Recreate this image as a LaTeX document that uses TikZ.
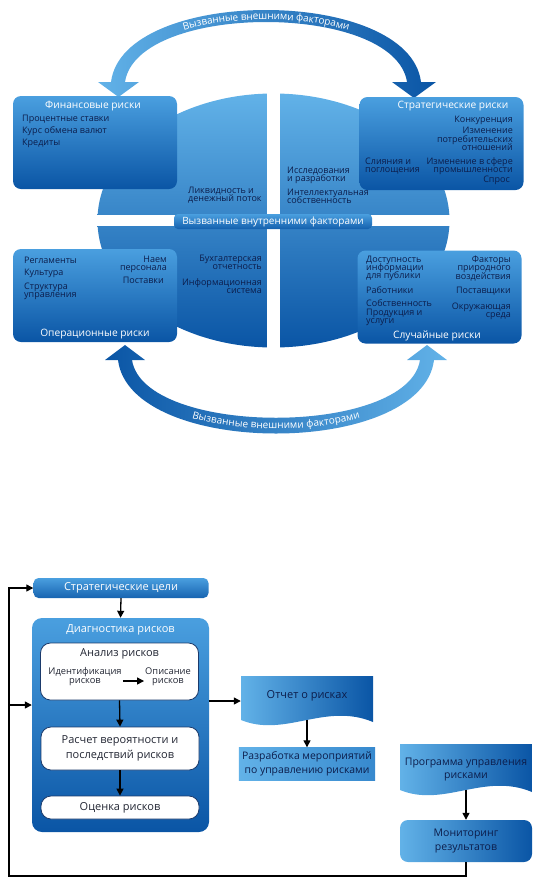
\documentclass[tikz,border=0pt]{standalone}
\usepackage{fontspec}
\setmainfont{Open Sans}
\usetikzlibrary{arrows.meta,decorations.text}

\definecolor{navy}{HTML}{0C1D4B}
\definecolor{skyblue}{HTML}{62B2E8}
\definecolor{lightblue}{HTML}{4A9FDF}
\definecolor{darkblue}{HTML}{0A55A5}
\definecolor{framecol}{HTML}{1B3A6B}
\definecolor{inktext}{HTML}{222633}

\newcommand{\tightlines}{\lineskiplimit=-5pt\relax}

\tikzset{
  riskbox/.style={rounded corners=8pt, top color=lightblue, bottom color=darkblue,
    minimum width=164pt, minimum height=93pt},
  risktitle/.style={text=white, font=\fontsize{10.2}{11}\selectfont, inner sep=1pt},
  riskitem/.style={text=navy, font=\fontsize{9}{8.2}\selectfont\tightlines, inner sep=1pt},
  innerband/.style={rounded corners=4pt, top color=lightblue, bottom color=darkblue!85!lightblue,
    minimum width=198pt, minimum height=15pt, inner sep=0pt, text=white,
    font=\fontsize{10}{10}\selectfont},
  bluebox/.style={rounded corners=5pt, top color=lightblue, bottom color=darkblue!80!lightblue,
    text=white, font=\fontsize{11}{12}\selectfont},
  stepbox/.style={rounded corners=10pt, fill=white, draw=framecol, line width=0.8pt,
    text=inktext, font=\fontsize{11}{14.5}\selectfont, align=center, minimum width=158pt},
  docnode/.style={minimum width=132pt, minimum height=50pt, text=navy, align=center,
    font=\fontsize{10.5}{13}\selectfont,
    path picture={\shade[left color=skyblue, right color=darkblue]
      (path picture bounding box.north west) -- (path picture bounding box.north east)
      -- ([yshift=4pt]path picture bounding box.south east)
      .. controls ([xshift=-48pt,yshift=24pt]path picture bounding box.south east)
      and ([xshift=44pt,yshift=-12pt]path picture bounding box.south west)
      .. ([yshift=6pt]path picture bounding box.south west) -- cycle;}},
  arrow/.style={line width=1.3pt, -{Triangle[width=7pt,length=7pt]}},
}

\begin{document}
\begin{tikzpicture}[x=1pt, y=-1pt]
  \useasboundingbox (0,0) rectangle (537,884);

  % Круг с четырьмя секторами
  \shade[top color=skyblue, bottom color=darkblue] (273.5,220.5) ellipse [x radius=176, y radius=127];
  \fill[white] (267,90) rectangle (280,350);
  \fill[white] (95,215) rectangle (452,226);

  % Внешние стрелки
  \shade[left color=skyblue, right color=darkblue]
    (98,82) -- (111,82) .. controls (123,-14) and (409,-14) .. (421,82) -- (436,82) -- (414,98)
    -- (392,82) -- (407,82) .. controls (395,2) and (137,2) .. (125,82) -- (139,82) -- (118.5,97) -- cycle;
  \shade[left color=darkblue, right color=skyblue]
    (105,360) -- (118,360) .. controls (130,458) and (422,458) .. (434,360) -- (447,360) -- (427,345)
    -- (407,360) -- (420,360) .. controls (408,437) and (144,437) .. (132,360) -- (145,360) -- (125,345) -- cycle;
  \path[decorate, decoration={text along path, text color=white, text align=center, raise=-3.5pt,
      text={|\fontsize{10}{10}\selectfont|Вызванные внешними факторами}}]
    (118,82) .. controls (130,-6) and (402,-6) .. (414,82);
  \path[decorate, decoration={text along path, text color=white, text align=center, raise=-3.5pt,
      text={|\fontsize{10}{10}\selectfont|Вызванные внешними факторами}}]
    (125,360) .. controls (137,447) and (415,447) .. (427,360);

  % Финансовые риски
  \node[riskbox] (fin) at (95,142.5) {};
  \node[risktitle] (fintitle) at (93,106) {Финансовые риски};
  \node[riskitem, anchor=west] (rates) at (21,119) {Процентные ставки};
  \node[riskitem, anchor=west] (fx) at (21,131) {Курс обмена валют};
  \node[riskitem, anchor=west] (credit) at (21,143) {Кредиты};

  % Стратегические риски
  \node[riskbox] (strat) at (441.5,143.5) {};
  \node[risktitle] (strattitle) at (453,106) {Стратегические риски};
  \node[riskitem, anchor=east] (compet) at (514,120) {Конкуренция};
  \node[riskitem, anchor=east, align=right] (consum) at (514,139) {Изменение\\потребительских\\отношений};
  \node[riskitem, anchor=east, align=right] (industry) at (514,166) {Изменение в сфере\\промышленности};
  \node[riskitem, anchor=east] (demand) at (511,180) {Спрос};
  \node[riskitem, anchor=west, align=left] (merge) at (364,166) {Слияния и\\поглощения};

  % Тексты в секторах
  \node[riskitem, anchor=west, align=left] (liquid) at (187,195) {Ликвидность и\\денежный поток};
  \node[riskitem, anchor=west, align=left] (research) at (286,175) {Исследования\\и разработки};
  \node[riskitem, anchor=west, align=left] (ip) at (286,196) {Интеллектуальная\\собственность};
  \node[riskitem, anchor=east, align=right] (account) at (263,262) {Бухгалтерская\\отчетность};
  \node[riskitem, anchor=east, align=right] (infosys) at (263,286) {Информационная\\система};

  % Операционные риски
  \node[riskbox] (oper) at (95,295.5) {};
  \node[risktitle] (opertitle) at (95,334) {Операционные риски};
  \node[riskitem, anchor=west] (rules) at (23,260) {Регламенты};
  \node[riskitem, anchor=west] (culture) at (23,273) {Культура};
  \node[riskitem, anchor=west, align=left] (struct) at (23,291) {Структура\\управления};
  \node[riskitem, anchor=east, align=right] (hiring) at (168,264) {Наем\\персонала};
  \node[riskitem, anchor=east] (supply) at (165,280) {Поставки};

  % Случайные риски
  \node[riskbox] (rand) at (439.5,297) {};
  \node[risktitle] (randtitle) at (437,336) {Случайные риски};
  \node[riskitem, anchor=west, align=left] (public) at (365,268.5) {Доступность\\информации\\для публики};
  \node[riskitem, anchor=west] (staff) at (365,290) {Работники};
  \node[riskitem, anchor=west] (property) at (365,303) {Собственность};
  \node[riskitem, anchor=west, align=left] (product) at (365,317) {Продукция и\\услуги};
  \node[riskitem, anchor=east, align=right] (nature) at (512,268.5) {Факторы\\природного\\воздействия};
  \node[riskitem, anchor=east] (vendors) at (512,291) {Поставщики};
  \node[riskitem, anchor=east, align=right] (environ) at (512,311) {Окружающая\\среда};

  % Внутренние факторы
  \node[innerband] (inner) at (273,221.5) {Вызванные внутренними факторами};

  % Схема управления рисками
  \node[bluebox, minimum width=175pt, minimum height=20pt] (goals) at (121,588) {Стратегические цели};
  \node[bluebox, rounded corners=10pt, minimum width=177pt, minimum height=214pt,
    top color=lightblue, bottom color=darkblue] (diag) at (120.5,725) {};
  \node[text=white, font=\fontsize{11}{12}\selectfont] (diagtitle) at (120.5,630) {Диагностика рисков};
  \node[stepbox, minimum height=57pt] (analysis) at (119.5,671.5) {};
  \node[text=inktext, font=\fontsize{11}{12}\selectfont] (antitle) at (119.5,654) {Анализ рисков};
  \node[text=inktext, font=\fontsize{9.3}{9}\selectfont\tightlines, align=center, inner sep=1pt]
    (ident) at (85,677) {Идентификация\\рисков};
  \node[text=inktext, font=\fontsize{9.3}{9}\selectfont\tightlines, align=center, inner sep=1pt]
    (descr) at (168,677) {Описание\\рисков};
  \node[stepbox, minimum height=43pt] (calc) at (120,748.5) {Расчет вероятности и\\последствий рисков};
  \node[stepbox, minimum height=23pt] (eval) at (120,807.5) {Оценка рисков};

  \node[docnode, text depth=12pt, font=\fontsize{11}{13}\selectfont] (report) at (307,701) {Отчет о рисках};
  \node[minimum width=132pt, minimum height=33pt, left color=skyblue, right color=lightblue!70!darkblue,
    text=navy, align=center, font=\fontsize{10.4}{14}\selectfont] (measures) at (307,764)
    {Разработка мероприятий\\по управлению рисками};
  \node[docnode, minimum height=52pt] (program) at (466,770) {Программа управления\\рисками};
  \node[rounded corners=8pt, minimum width=132pt, minimum height=42pt, left color=skyblue,
    right color=darkblue, text=navy, align=center, font=\fontsize{10.5}{14}\selectfont]
    (monitor) at (466,841) {Мониторинг\\результатов};

  % Стрелки
  \draw[arrow] (goals.south) -- (diag.north);
  \draw[arrow] ([yshift=-4pt]ident.east) -- ([yshift=-4pt]descr.west);
  \draw[arrow] (analysis.south) -- (calc.north);
  \draw[arrow] (calc.south) -- (eval.north);
  \draw[arrow] (report.west -| diag.east) -- (report.west);
  \draw[arrow] ([yshift=6pt]report.south) -- (measures.north);
  \draw[arrow] ([yshift=6pt]program.south) -- (monitor.north);

  % Обратная связь
  \coordinate (fbcorner) at (9,876);
  \coordinate (fbin) at (9,705);
  \draw[arrow] (monitor.south) |- (fbcorner) |- (goals.west);
  \draw[arrow] (fbin) -- (fbin -| diag.west);
\end{tikzpicture}
\end{document}
